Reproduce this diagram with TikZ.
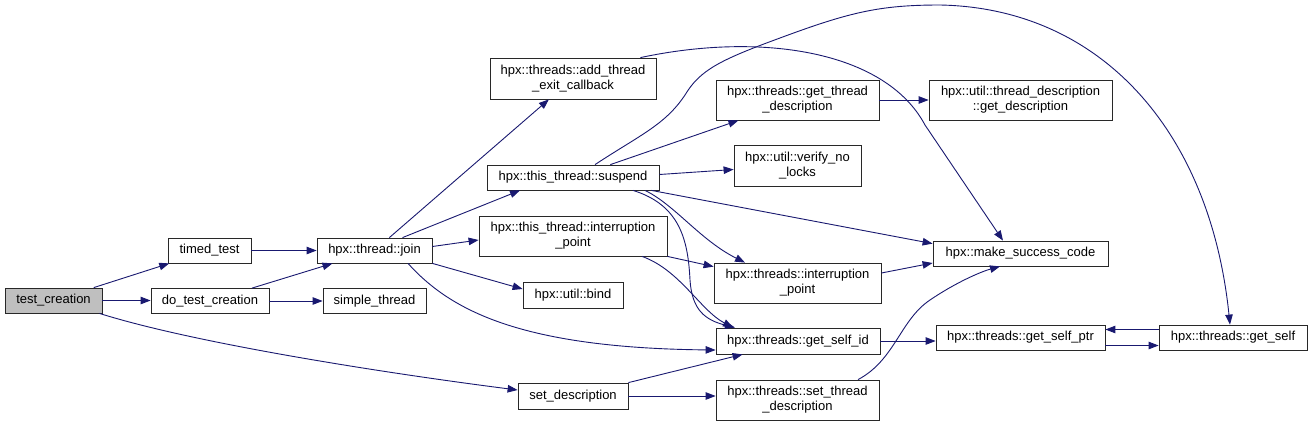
\documentclass[tikz,border=0pt]{standalone}
\usepackage{fontspec}
\setmainfont{Liberation Sans}
\usetikzlibrary{arrows.meta}
\definecolor{navy}{RGB}{25,25,112}
\definecolor{bordr}{RGB}{40,40,40}
\begin{document}
\begin{tikzpicture}[x=1pt,y=-1pt,
  box/.style={draw=bordr, line width=0.8pt, fill=white, inner sep=0pt, align=center,
    font=\fontsize{13}{15}\selectfont},
  sz/.style 2 args={minimum width=#1pt, minimum height=#2pt},
  cl/.style={draw=navy, line width=0.9pt, -{Triangle[length=10pt,width=7.5pt]}}]
\useasboundingbox (0,0) rectangle (1312,426);
\fill[white] (0,0) rectangle (1312,426);
% nodes
\node[box, sz={97}{25}, fill={rgb,255:red,191;green,191;blue,191}] (tc) at (53.5,300.5) {test\_creation};
\node[box, sz={83}{25}] (tt) at (209.5,250.5) {timed\_test};
\node[box, sz={118}{25}] (dtc) at (210,301) {do\_test\_creation};
\node[box, sz={115}{25}] (join) at (374.5,250.5) {hpx::thread::join};
\node[box, sz={103}{25}] (simple) at (374.5,301) {simple\_thread};
\node[box, sz={166}{41}] (add) at (573,78.5) {hpx::threads::add\_thread\\\_exit\_callback};
\node[box, sz={172}{25}] (susp) at (573,177.5) {hpx::this\_thread::suspend};
\node[box, sz={188}{40}] (tip) at (573,236) {hpx::this\_thread::interruption\\\_point};
\node[box, sz={100}{26}] (bind) at (573,295) {hpx::util::bind};
\node[box, sz={110}{26}] (setd) at (573,396) {set\_description};
\node[box, sz={163}{40}] (gtd) at (797.5,100) {hpx::threads::get\_thread\\\_description};
\node[box, sz={127}{41}] (vnl) at (797.5,165.5) {hpx::util::verify\_no\\\_locks};
\node[box, sz={167}{40}] (thip) at (797.5,283) {hpx::threads::interruption\\\_point};
\node[box, sz={164}{26}] (gsid) at (798,341) {hpx::threads::get\_self\_id};
\node[box, sz={163}{40}] (std) at (797.5,400) {hpx::threads::set\_thread\\\_description};
\node[box, sz={183}{40}] (gd) at (1020.5,100) {hpx::util::thread\_description\\::get\_description};
\node[box, sz={175}{25}] (msc) at (1020.5,253.5) {hpx::make\_success\_code};
\node[box, sz={169}{25}] (gsp) at (1020.5,337.5) {hpx::threads::get\_self\_ptr};
\node[box, sz={148}{25}] (gs) at (1233,337.5) {hpx::threads::get\_self};
% edges
\draw[cl] (tc) -- (tt);
\draw[cl] (tc.east) -- (tc.east -| dtc.west);
\draw[cl] ([xshift=-3pt]tc.south east) .. controls (200,345) and (400,375) .. ([yshift=6pt]setd.west);
\draw[cl] (tt) -- (join);
\draw[cl] (dtc) -- (join);
\draw[cl] (dtc) -- (simple);
\draw[cl] (join) -- (add);
\draw[cl] ([xshift=28pt]join.north) -- ([xshift=-53pt]susp.south);
\draw[cl] ([yshift=4pt]join.east) -- ([yshift=-4pt]tip.west);
\draw[cl] (join.south east) -- ([yshift=6pt]bind.west);
\draw[cl] ([xshift=33.5pt]join.south) .. controls (450,310) and (520,348) .. ([yshift=-9pt]gsid.west);
\draw[cl] ([xshift=-16pt]add.north east) .. controls (760,32) and (885,50) .. (925,125) -- ([xshift=-17.5pt]msc.north);
\draw[cl] ([xshift=22pt]susp.north) .. controls (640,135) and (665,125) .. (685,95)
  .. controls (700,70) and (720,60) .. (780,38) .. controls (850,12) and (880,5) .. (940,5)
  .. controls (1100,8) and (1210,130) .. ([xshift=-3pt]gs.north);
\draw[cl] (susp) -- (gtd);
\draw[cl] ([yshift=3pt]susp.east) -- ([yshift=-4pt]vnl.west);
\draw[cl] ([xshift=-8pt]susp.south east) -- ([yshift=-3pt]msc.north west);
\draw[cl] ([xshift=72pt]susp.south) .. controls (675,205) and (700,240) .. ([xshift=-52.5pt]thip.north);
\draw[cl] ([xshift=60pt]susp.south) .. controls (680,205) and (688,240) .. (690,280)
  .. controls (692,310) and (705,320) .. ([xshift=-63pt]gsid.north);
\draw[cl] (tip.south east) -- ([yshift=-4pt]thip.north west);
\draw[cl] ([xshift=69pt]tip.south) .. controls (680,270) and (700,310) .. ([xshift=-65pt]gsid.north);
\draw[cl] ([yshift=10pt]thip.east) -- ([yshift=-9.5pt]msc.west);
\draw[cl] (gsid.east) -- (gsid.east -| gsp.west);
\draw[cl] ([xshift=60.5pt]std.north) .. controls (895,360) and (900,320) .. (930,300)
  .. controls (955,283) and (980,272) .. ([xshift=-20.5pt]msc.south);
\draw[cl] (setd.north east) -- ([xshift=27pt]gsid.south west);
\draw[cl] (setd.east) -- (setd.east -| std.west);
\draw[cl] (gtd) -- (gd);
\draw[cl] ([yshift=-8pt]gsp.east) -- ([yshift=-8pt]gs.west);
\draw[cl] ([yshift=8pt]gs.west) -- ([yshift=8pt]gsp.east);
\end{tikzpicture}
\end{document}
